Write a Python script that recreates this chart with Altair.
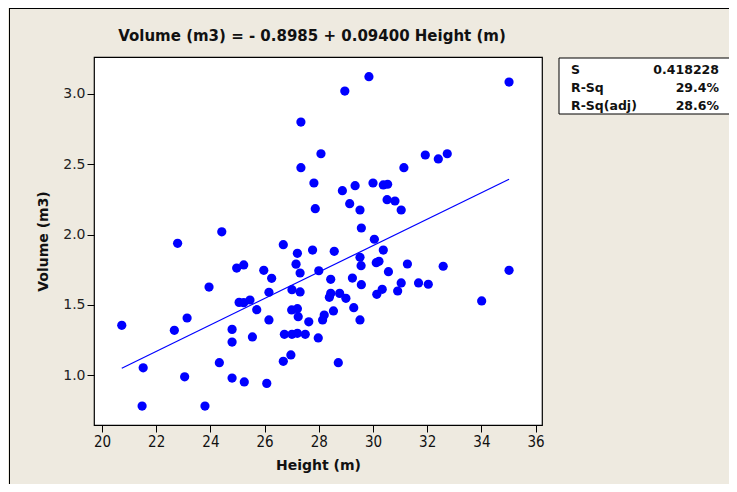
import altair as alt
import pandas as pd

# ---- data ----
heights = [20.73, 21.52, 21.48, 22.67, 22.79, 23.05, 23.14, 23.80, 23.95, 24.33,
           24.42, 24.80, 24.80, 24.80, 24.97, 25.06, 25.23, 25.23, 25.25, 25.46,
           25.55, 25.71, 25.97, 26.08, 26.16, 26.16, 26.26, 26.69, 26.69, 26.73,
           26.97, 27.01, 27.00, 27.01, 27.16, 27.21, 27.21, 27.21, 27.24, 27.31,
           27.31, 27.34, 27.34, 27.50, 27.63, 27.77, 27.82, 27.87, 27.98, 28.00,
           28.08, 28.14, 28.20, 28.39, 28.44, 28.44, 28.54, 28.57, 28.72, 28.77,
           28.87, 28.96, 29.00, 29.14, 29.24, 29.29, 29.34, 29.52, 29.52, 29.52,
           29.56, 29.57, 29.57, 29.85, 30.00, 30.05, 30.12, 30.22, 30.14, 30.34,
           30.38, 30.38, 30.52, 30.54, 30.57, 30.81, 30.91, 31.04, 31.04, 31.14,
           31.27, 31.68, 31.93, 32.04, 32.41, 32.59, 32.74, 34.01, 35.02, 35.02]
volumes = [1.355, 1.053, 0.781, 1.319, 1.938, 0.989, 1.407, 0.781, 1.627, 1.089,
           2.020, 1.326, 1.236, 0.980, 1.762, 1.518, 1.784, 1.516, 0.952, 1.535,
           1.272, 1.466, 1.746, 0.942, 1.590, 1.393, 1.689, 1.928, 1.099, 1.291,
           1.144, 1.608, 1.464, 1.291, 1.790, 1.867, 1.473, 1.298, 1.416, 1.727,
           1.592, 2.800, 2.476, 1.291, 1.380, 1.890, 2.367, 2.184, 1.265, 1.743,
           2.575, 1.393, 1.428, 1.554, 1.582, 1.682, 1.457, 1.881, 1.089, 1.582,
           2.312, 3.021, 1.547, 2.220, 1.691, 1.480, 2.348, 2.175, 1.839, 1.393,
           1.779, 2.047, 1.644, 3.123, 2.367, 1.967, 1.800, 1.810, 1.575, 1.611,
           2.353, 1.890, 2.248, 2.358, 1.736, 2.239, 1.599, 2.175, 1.656, 2.476,
           1.791, 1.656, 2.566, 1.647, 2.538, 1.775, 2.575, 1.528, 3.085, 1.746]

intercept = -0.8985
slope = 0.09400
title_text = "Volume (m3) =  - 0.8985 + 0.09400 Height (m)"
stat_labels = ["S", "R-Sq", "R-Sq(adj)"]
stat_values = ["0.418228", "29.4%", "28.6%"]
x_ticks = [20, 22, 24, 26, 28, 30, 32, 34, 36]
y_ticks = [1.0, 1.5, 2.0, 2.5, 3.0]

# ---- tables ----
df = pd.DataFrame({"Height": heights, "Volume": volumes})
fit_x = [min(heights), max(heights)]
fit_df = pd.DataFrame({"Height": fit_x, "Volume": [intercept + slope * v for v in fit_x]})
one = pd.DataFrame({"a": [0]})

W, H = 448, 368
PAD = {"left": 86, "top": 49, "right": 187, "bottom": 59}
BG = "#EEEAE0"
BLUE = "#0000FF"

xscale = alt.Scale(domain=[19.705, 36.236], nice=False, zero=False)
yscale = alt.Scale(domain=[0.646, 3.263], nice=False, zero=False)

xaxis = alt.Axis(values=x_ticks, format="d", grid=False, domain=False,
                 tickColor="black", tickSize=7, labelPadding=2,
                 labelFont="DejaVu Sans Condensed, Liberation Sans Narrow, DejaVu Sans",
                 labelFontSize=15, labelColor="#111",
                 title="Height (m)", titleFont="DejaVu Sans", titleFontSize=14,
                 titleFontWeight="bold", titleColor="#111",
                 titleX=W / 2, titleY=40, titleBaseline="middle", titleAnchor="middle")
yaxis = alt.Axis(values=y_ticks, format=".1f", grid=False, domain=False,
                 tickColor="black", tickSize=7, labelPadding=2,
                 labelFont="DejaVu Sans", labelFontSize=14, labelColor="#222",
                 title="Volume (m3)", titleFont="DejaVu Sans", titleFontSize=14,
                 titleFontWeight="bold", titleColor="#111",
                 titleX=-51, titleY=H / 2, titleBaseline="middle", titleAngle=270,
                 titleAnchor="middle")

points = alt.Chart(df).mark_circle(size=85, color=BLUE, opacity=1).encode(
    x=alt.X("Height:Q", scale=xscale, axis=xaxis),
    y=alt.Y("Volume:Q", scale=yscale, axis=yaxis),
)

line = alt.Chart(fit_df).mark_line(color=BLUE, strokeWidth=1.2).encode(
    x=alt.X("Height:Q", scale=xscale),
    y=alt.Y("Volume:Q", scale=yscale),
)

title = alt.Chart(one).mark_text(
    font="DejaVu Sans", fontSize=15, fontWeight="bold", color="#111",
    align="center", baseline="middle", text=title_text
).encode(x=alt.value(218), y=alt.value(-21))

# stats box
box = alt.Chart(one).mark_rect(fill="white", stroke="black", strokeWidth=1).encode(
    x=alt.value(465), x2=alt.value(637), y=alt.value(1), y2=alt.value(57)
)
stat_layers = []
for i, (lab, val) in enumerate(zip(stat_labels, stat_values)):
    yy = 13 + i * 17.8
    stat_layers.append(
        alt.Chart(one).mark_text(font="DejaVu Sans", fontSize=12.5, fontWeight="bold",
                                 color="#111", align="left", baseline="middle", text=lab)
        .encode(x=alt.value(477), y=alt.value(yy)))
    stat_layers.append(
        alt.Chart(one).mark_text(font="DejaVu Sans", fontSize=12.5, fontWeight="bold",
                                 color="#111", align="right", baseline="middle", text=val)
        .encode(x=alt.value(625), y=alt.value(yy)))

# outer window frame
frame_left = alt.Chart(one).mark_rule(color="black", strokeWidth=1).encode(
    x=alt.value(-84.5), y=alt.value(-49), y2=alt.value(H + 59))
frame_top = alt.Chart(one).mark_rule(color="black", strokeWidth=1).encode(
    x=alt.value(-85), x2=alt.value(W + 187), y=alt.value(-48.5))

chart = alt.layer(frame_left, frame_top, line, points, title, box, *stat_layers).properties(
    width=W, height=H,
    autosize=alt.AutoSizeParams(type="none"),
    padding=PAD,
    background=BG,
).configure_view(stroke="black", strokeWidth=1.2, fill="white")

chart.save("out.html", embed_options={"renderer": "svg", "actions": False})
